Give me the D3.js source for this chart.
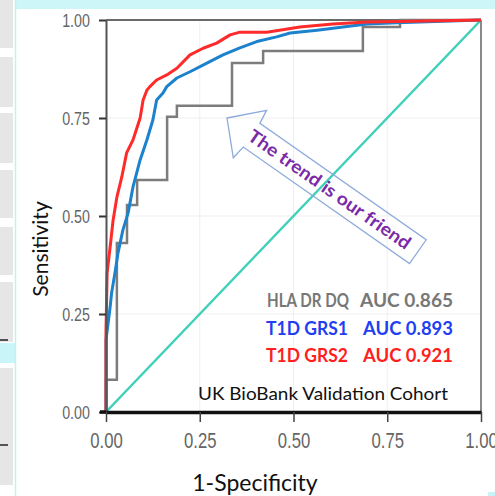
<!DOCTYPE html>
<html>
<head>
<meta charset="utf-8">
<script src="https://cdn.jsdelivr.net/npm/d3@7"></script>
<style>
  html, body { margin: 0; padding: 0; background: #fff; }
  svg { display: block; }
</style>
</head>
<body>
<svg id="roc" width="495" height="496"></svg>
<script>
// ROC curves
const hlaFpr = [0, 0, 0.029, 0.056, 0.083, 0.163, 0.189, 0.336, 0.419, 0.685, 0.784, 1]
const hlaTpr = [0, 0.082, 0.431, 0.528, 0.592, 0.753, 0.781, 0.890, 0.921, 0.982, 1, 1]

const grs1Fpr = [0, 0, 0.011, 0.015, 0.024, 0.032, 0.045, 0.059, 0.072, 0.091, 0.109, 0.125, 0.135, 0.152, 0.162, 0.189, 0.224, 0.269, 0.312, 0.357, 0.402, 0.455, 0.491, 0.563, 0.632, 0.696, 0.776, 1]
const grs1Tpr = [0, 0.184, 0.268, 0.304, 0.355, 0.406, 0.464, 0.508, 0.574, 0.643, 0.694, 0.745, 0.796, 0.814, 0.830, 0.852, 0.868, 0.890, 0.911, 0.929, 0.945, 0.957, 0.967, 0.974, 0.982, 0.990, 0.993, 1]

const grs2Fpr = [0, 0, 0.003, 0.011, 0.019, 0.029, 0.042, 0.055, 0.072, 0.091, 0.099, 0.109, 0.117, 0.135, 0.162, 0.189, 0.224, 0.259, 0.295, 0.331, 0.357, 0.429, 0.517, 0.605, 0.696, 0.784, 1]
const grs2Tpr = [0, 0.209, 0.355, 0.421, 0.490, 0.548, 0.599, 0.661, 0.694, 0.750, 0.796, 0.821, 0.830, 0.847, 0.860, 0.877, 0.911, 0.928, 0.941, 0.962, 0.969, 0.969, 0.982, 0.990, 0.995, 0.996, 1]

const chanceLine = [0, 1]
const ticks = [0, 0.25, 0.5, 0.75, 1]
const legendNames = ['HLA DR DQ', 'T1D GRS1', 'T1D GRS2']
const legendAuc = [0.865, 0.893, 0.921]
const cohortLabel = 'UK BioBank Validation Cohort'
const arrowLabel = 'The trend is our friend'

const svg = d3.select('#roc')
const x = d3.scaleLinear().domain([0, 1]).range([106, 481])
const y = d3.scaleLinear().domain([0, 1]).range([412, 20])

// slide furniture around the chart
svg.append('rect').attr('x', 15).attr('y', 0).attr('width', 480).attr('height', 9).attr('fill', '#cdf6f9')
const sideBlocks = [[0, 48], [57, 107], [113, 163], [170, 218], [227, 275], [282, 342], [368, 485]]
sideBlocks.forEach(b => {
  svg.append('rect').attr('x', 0).attr('y', b[0]).attr('width', 13).attr('height', b[1] - b[0]).attr('fill', '#e6e6e6')
})
svg.append('rect').attr('x', 0).attr('y', 343).attr('width', 15).attr('height', 20).attr('fill', '#c9f5f8')
svg.append('line').attr('x1', 15.5).attr('x2', 15.5).attr('y1', 0).attr('y2', 496).attr('stroke', '#c4f0f4').attr('stroke-width', 1.5)
;[340, 445].forEach(v => {
  svg.append('line').attr('x1', 0).attr('x2', 8).attr('y1', v).attr('y2', v).attr('stroke', '#222').attr('stroke-width', 1.5)
})
svg.append('rect').attr('x', 488).attr('y', 492).attr('width', 7).attr('height', 4).attr('fill', '#c9f5f8')

// faint grid
const grid = svg.append('g').attr('stroke', '#efefef').attr('stroke-width', 1)
ticks.slice(1, 4).forEach(t => {
  grid.append('line').attr('x1', x(t)).attr('x2', x(t)).attr('y1', y(0)).attr('y2', y(1))
  grid.append('line').attr('x1', x(0)).attr('x2', x(1)).attr('y1', y(t)).attr('y2', y(t))
})

// frame
svg.append('line').attr('x1', x(0)).attr('x2', x(1)).attr('y1', y(1)).attr('y2', y(1)).attr('stroke', '#6a6a6a').attr('stroke-width', 2)
svg.append('line').attr('x1', x(1)).attr('x2', x(1)).attr('y1', y(1)).attr('y2', y(0)).attr('stroke', '#8a8a8a').attr('stroke-width', 2)

// curves
const line = d3.line().x(d => x(d[0])).y(d => y(d[1]))
svg.append('path')
  .datum(chanceLine.map(v => [v, v]))
  .attr('d', line)
  .attr('fill', 'none').attr('stroke', '#3fd0b9').attr('stroke-width', 2.5)

svg.append('path')
  .datum(d3.zip(hlaFpr, hlaTpr))
  .attr('d', line.curve(d3.curveStepAfter))
  .attr('fill', 'none').attr('stroke', '#7c7c7c').attr('stroke-width', 2.5)
line.curve(d3.curveLinear)

svg.append('path')
  .datum(d3.zip(grs1Fpr, grs1Tpr))
  .attr('d', line)
  .attr('fill', 'none').attr('stroke', '#1c82cc').attr('stroke-width', 3).attr('stroke-linejoin', 'round')

svg.append('path')
  .datum(d3.zip(grs2Fpr, grs2Tpr))
  .attr('d', line)
  .attr('fill', 'none').attr('stroke', '#ff2b2b').attr('stroke-width', 3).attr('stroke-linejoin', 'round')

// axes
const yAxis = svg.append('g').attr('transform', `translate(${x(0)},0)`)
  .call(d3.axisLeft(y).tickValues(ticks).tickFormat(d3.format('.2f')).tickSize(7).tickSizeOuter(0))
yAxis.select('.domain').attr('stroke', '#555').attr('stroke-width', 2)
yAxis.selectAll('.tick line').attr('stroke', '#333').attr('stroke-width', 2)
yAxis.selectAll('.tick text')
  .attr('x', -21.5).attr('transform', 'scale(0.75,1)')
  .attr('fill', '#656565').style('font', '19px "Liberation Sans", Arial, sans-serif')

const xAxis = svg.append('g').attr('transform', `translate(0,${y(0)})`)
  .call(d3.axisBottom(x).tickValues(ticks).tickFormat(d3.format('.2f')).tickSize(10).tickSizeOuter(0))
xAxis.select('.domain').attr('stroke', '#111').attr('stroke-width', 3.5)
xAxis.selectAll('.tick line').attr('stroke', '#444').attr('stroke-width', 1.5)
xAxis.selectAll('.tick text')
  .attr('y', 36).attr('dy', 0)
  .attr('transform', 'scale(0.76,1)')
  .attr('fill', '#656565').style('font', '22px "Liberation Sans", Arial, sans-serif')
// the axis line runs a little past the left spine, as in the figure
svg.append('line').attr('x1', 100).attr('x2', x(0)).attr('y1', y(0)).attr('y2', y(0)).attr('stroke', '#111').attr('stroke-width', 3.5)

// axis titles
svg.append('text')
  .attr('transform', 'translate(48,249) rotate(-90)')
  .attr('text-anchor', 'middle')
  .style('font', '21px Lato, "Open Sans", sans-serif').attr('fill', '#111')
  .text('Sensitivity')
svg.append('text')
  .attr('x', 255).attr('y', 491)
  .attr('text-anchor', 'middle')
  .style('font', '23px Lato, "Open Sans", sans-serif').attr('fill', '#111')
  .text('1-Specificity')

// legend
const legendColors = ['#777777', '#1f3ff0', '#ff1f1f']
const nameLeft = [267, 266, 266]
const nameWidth = [82, 82, 82]
const aucWidth = [93, 90, 90]
const baselines = [307, 335, 362]
legendNames.forEach((name, i) => {
  svg.append('text')
    .attr('x', nameLeft[i]).attr('y', baselines[i])
    .attr('textLength', nameWidth[i]).attr('lengthAdjust', 'spacingAndGlyphs')
    .style('font', 'bold 18px Lato, sans-serif').attr('fill', legendColors[i])
    .text(name)
  svg.append('text')
    .attr('x', 453).attr('y', baselines[i])
    .attr('text-anchor', 'end')
    .attr('textLength', aucWidth[i]).attr('lengthAdjust', 'spacingAndGlyphs')
    .style('font', 'bold 19px Lato, sans-serif').attr('fill', legendColors[i])
    .text('AUC ' + legendAuc[i].toFixed(3))
})
svg.append('text')
  .attr('x', 198).attr('y', 400)
  .attr('textLength', 250).attr('lengthAdjust', 'spacingAndGlyphs')
  .style('font', '18px Lato, sans-serif').attr('fill', '#111')
  .text(cohortLabel)

// block arrow callout
const arrow = svg.append('g').attr('transform', 'translate(227,118) rotate(35)')
arrow.append('path')
  .attr('d', 'M0,0 L28,-29 L30,-14.5 L233,-14.5 L233,14.5 L30,14.5 L28,29 Z')
  .attr('fill', 'none').attr('stroke', '#8eaadb').attr('stroke-width', 1.3)
arrow.append('text')
  .attr('x', 125).attr('y', 6)
  .attr('text-anchor', 'middle')
  .attr('textLength', 194).attr('lengthAdjust', 'spacingAndGlyphs')
  .style('font', 'bold 18px Lato, sans-serif').attr('fill', '#7a2aa8')
  .text(arrowLabel)
</script>
</body>
</html>
